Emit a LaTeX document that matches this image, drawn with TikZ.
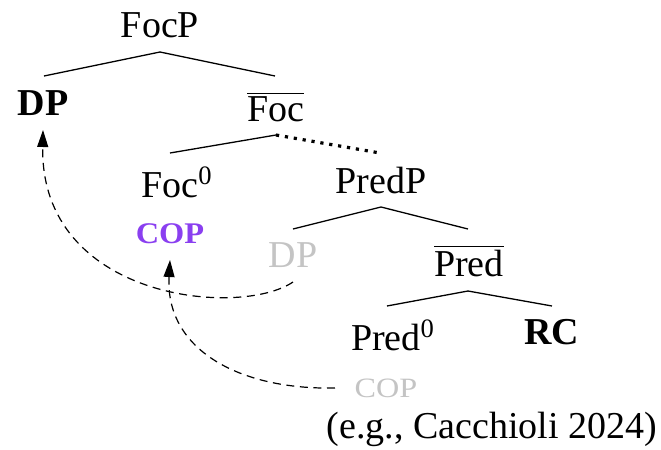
\documentclass[tikz,border=0pt]{standalone}
\usepackage{fontspec}
\setmainfont{Liberation Serif}
\newfontfamily\scfont[FakeStretch=1.15]{Liberation Serif}
\newfontfamily\scbfont[FakeStretch=1.08]{Liberation Serif Bold}
\usetikzlibrary{arrows.meta}
\definecolor{copviolet}{HTML}{8A3FF0}
\definecolor{traceg}{HTML}{C4C4C4}
\begin{document}
\begin{tikzpicture}[x=0.5pt,y=-0.5pt,
  lab/.style={anchor=base,inner sep=0pt,font=\fontsize{19}{23}\selectfont},
  branch/.style={line width=0.65pt},
  dotbranch/.style={line width=1.6pt,dash pattern=on 1.6pt off 2.9pt},
  mv/.style={line width=0.6pt,dash pattern=on 4pt off 2.8pt,-{Triangle[length=8.5pt,width=5.5pt]}}]
\useasboundingbox (0,0) rectangle (661,450);
% labels
\node[lab] (focp) at (160,37) {FocP};
\node[lab] (dp) at (43,115) {\bfseries DP};
\node[lab] (focbar) at (276,121) {$\overline{\mbox{Foc}}$};
\node[lab] (foc0) at (177,197) {Foc\textsuperscript{0}};
\node[lab,font=\scbfont\fontsize{15}{18}\selectfont,text=copviolet] (cop) at (170,243) {COP};
\node[lab] (predp) at (381,193) {PredP};
\node[lab,text=traceg] (dpt) at (293,267) {DP};
\node[lab] (predbar) at (469,276) {$\overline{\mbox{Pred}}$};
\node[lab] (pred0) at (393,350) {Pred\textsuperscript{0}};
\node[lab] (rc) at (552,344) {\bfseries RC};
\node[lab,font=\scfont\fontsize{14}{17}\selectfont,text=traceg] (copt) at (386,397) {COP};
\node[lab] (cite) at (492,438) {(e.g., Cacchioli 2024)};
% branch points
\coordinate (a1) at (160,52);  \coordinate (a1l) at (44,76);  \coordinate (a1r) at (275,76);
\coordinate (a2) at (276,135); \coordinate (a2l) at (170,153); \coordinate (a2r) at (380,153);
\coordinate (a3) at (381,207); \coordinate (a3l) at (293,229); \coordinate (a3r) at (468,229);
\coordinate (a4) at (468,291); \coordinate (a4l) at (387,306); \coordinate (a4r) at (552,306);
\draw[branch] (a1l) -- (a1) -- (a1r);
\draw[branch] (a2l) -- (a2);
\draw[dotbranch] (a2) -- (a2r);
\draw[branch] (a3l) -- (a3) -- (a3r);
\draw[branch] (a4l) -- (a4) -- (a4r);
% movement arrows
\coordinate (m1s) at (293,282); \coordinate (m1e) at (43,130);
\coordinate (m2s) at (335,388); \coordinate (m2e) at (170,260);
\draw[mv] (m1s) .. controls (240,318) and (40,300) .. (m1e);
\draw[mv] (m2s) .. controls (240,390) and (165,350) .. (m2e);
\end{tikzpicture}
\end{document}
